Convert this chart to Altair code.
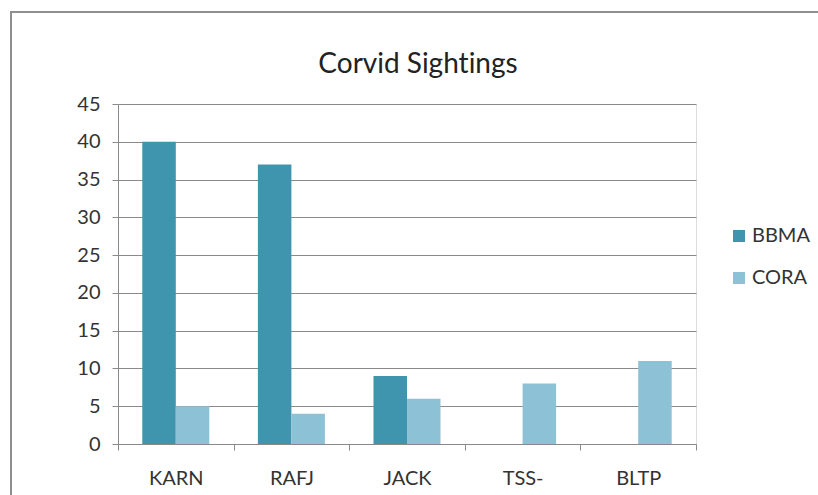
import altair as alt
import pandas as pd

# Sightings per site for each corvid species
sites = ["KARN", "RAFJ", "JACK", "TSS-", "BLTP"]
bbma = [40, 37, 9, 0, 0]
cora = [5, 4, 6, 8, 11]
species = ["BBMA", "CORA"]
colors = ["#3f95ae", "#8dc2d6"]
# zero-width non-joiner keeps Lato from fusing "ti" into a ligature
title_text = "Corvid Sight\u200cings"

rows = []
for i, s in enumerate(sites):
    rows.append({"site": s, "species": "BBMA", "count": bbma[i]})
    rows.append({"site": s, "species": "CORA", "count": cora[i]})
df = pd.DataFrame(rows)

FONT = "Lato"
W, H = 578, 340

bars = alt.Chart(df).mark_bar().encode(
    x=alt.X(
        "site:N",
        sort=sites,
        title=None,
        scale=alt.Scale(paddingInner=0, paddingOuter=0),
        axis=alt.Axis(
            labelAngle=0,
            labelFontSize=20,
            labelFont=FONT,
            labelColor="#333333",
            labelPadding=18,
            tickBand="extent",
            tickSize=6,
            tickColor="#8a8a8a",
            domainColor="#8a8a8a",
            grid=False,
        ),
    ),
    xOffset=alt.XOffset(
        "species:N",
        sort=species,
        scale=alt.Scale(paddingInner=0, paddingOuter=0.725),
    ),
    y=alt.Y(
        "count:Q",
        title=None,
        scale=alt.Scale(domain=[0, 45], nice=False),
        axis=alt.Axis(
            values=list(range(0, 50, 5)),
            labelFontSize=20,
            labelFont=FONT,
            labelColor="#333333",
            labelPadding=12,
            tickSize=6,
            tickColor="#8a8a8a",
            domainColor="#8a8a8a",
            gridColor="#8a8a8a",
            gridWidth=1,
        ),
    ),
    color=alt.Color(
        "species:N",
        sort=species,
        scale=alt.Scale(domain=species, range=colors),
        legend=alt.Legend(
            title=None,
            orient="none",
            legendX=611,
            legendY=122,
            symbolType="square",
            symbolSize=144,
            symbolStrokeWidth=0,
            labelFontSize=20,
            labelFont=FONT,
            labelColor="#333333",
            labelOffset=3,
            rowPadding=22,
        ),
    ),
)

# Chart heading, centred over the whole framed chart
heading = alt.Chart(pd.DataFrame({"t": [title_text]})).mark_text(
    font=FONT,
    fontSize=28,
    color="#222222",
    align="center",
    baseline="alphabetic",
).encode(
    text="t:N",
    x=alt.value(W / 2 + 11),
    y=alt.value(-31),
)

# Outer chart frame
frame = alt.Chart(pd.DataFrame({"f": [0]})).mark_rect(
    fill=None, stroke="#8f8f8f", strokeWidth=2
).encode(
    x=alt.value(-107),
    y=alt.value(-92),
    x2=alt.value(740),
    y2=alt.value(420),
)

chart = (
    alt.layer(bars, heading, frame)
    .properties(
        width=W,
        height=H,
        autosize=alt.AutoSizeParams(type="none"),
        padding={"left": 118, "top": 104, "right": 122, "bottom": 51},
    )
    .configure_view(stroke=None)
    .configure(background="white")
)

chart.save("out.html", embed_options={"renderer": "svg", "actions": False})
